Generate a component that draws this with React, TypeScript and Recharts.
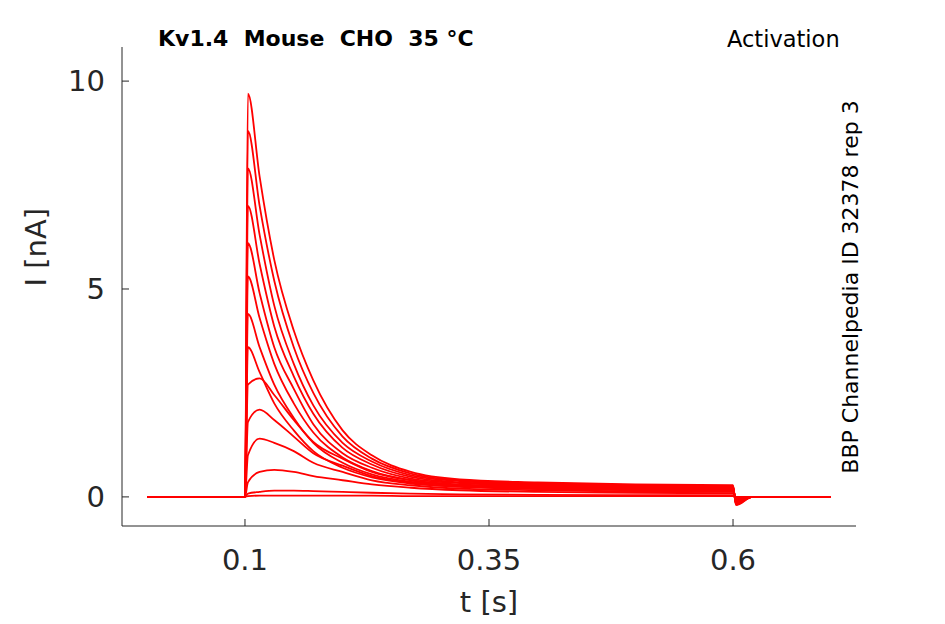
import { LineChart, Line, XAxis, YAxis } from 'recharts'

const times = [0, 0.099, 0.1, 0.103, 0.115, 0.13, 0.15, 0.17, 0.2, 0.23, 0.27, 0.32, 0.4, 0.5, 0.598, 0.6, 0.603, 0.62, 0.7]

// one row per trace, values in nA at each time above
const traces = [
  [0, 0, 0, 9.7, 7.7, 5.7, 4.0, 2.8, 1.6, 1.0, 0.6, 0.42, 0.35, 0.3, 0.28, 0.28, -0.2, 0, 0],
  [0, 0, 0, 8.8, 7.0, 5.2, 3.6, 2.5, 1.45, 0.92, 0.56, 0.4, 0.33, 0.28, 0.26, 0.26, -0.18, 0, 0],
  [0, 0, 0, 7.9, 6.3, 4.6, 3.2, 2.2, 1.3, 0.85, 0.52, 0.38, 0.31, 0.27, 0.25, 0.25, -0.16, 0, 0],
  [0, 0, 0, 7.0, 5.6, 4.1, 2.9, 2.0, 1.18, 0.78, 0.48, 0.35, 0.29, 0.25, 0.24, 0.24, -0.15, 0, 0],
  [0, 0, 0, 6.1, 4.9, 3.6, 2.6, 1.75, 1.05, 0.7, 0.44, 0.33, 0.27, 0.24, 0.23, 0.23, -0.14, 0, 0],
  [0, 0, 0, 5.3, 4.3, 3.2, 2.25, 1.55, 0.95, 0.62, 0.4, 0.3, 0.25, 0.22, 0.21, 0.21, -0.12, 0, 0],
  [0, 0, 0, 4.4, 3.6, 2.7, 1.9, 1.3, 0.82, 0.54, 0.36, 0.28, 0.23, 0.2, 0.2, 0.2, -0.1, 0, 0],
  [0, 0, 0, 3.6, 3.0, 2.25, 1.6, 1.1, 0.7, 0.47, 0.32, 0.25, 0.2, 0.18, 0.18, 0.18, -0.08, 0, 0],
  [0, 0, 0, 2.7, 2.85, 2.45, 1.85, 1.32, 0.92, 0.6, 0.4, 0.28, 0.22, 0.18, 0.16, 0.16, -0.06, 0, 0],
  [0, 0, 0, 1.8, 2.1, 1.85, 1.45, 1.05, 0.75, 0.5, 0.34, 0.24, 0.19, 0.16, 0.14, 0.14, -0.05, 0, 0],
  [0, 0, 0, 1.0, 1.4, 1.3, 1.1, 0.82, 0.6, 0.4, 0.28, 0.2, 0.16, 0.13, 0.12, 0.12, -0.04, 0, 0],
  [0, 0, 0, 0.35, 0.6, 0.65, 0.6, 0.5, 0.4, 0.3, 0.22, 0.16, 0.12, 0.1, 0.09, 0.09, -0.03, 0, 0],
  [0, 0, 0, 0.08, 0.12, 0.15, 0.15, 0.14, 0.12, 0.1, 0.08, 0.06, 0.05, 0.04, 0.04, 0.04, -0.02, 0, 0],
  [0, 0, 0, 0.02, 0.03, 0.03, 0.03, 0.03, 0.03, 0.03, 0.02, 0.02, 0.02, 0.02, 0.02, 0.02, 0, 0, 0],
]

const xTicks = [0.1, 0.35, 0.6]
const yTicks = [0, 5, 10]

const data = times.map((t, i) => {
  const row: any = { t }
  traces.forEach((tr, k) => { row[`s${k}`] = tr[i] })
  return row
})

const font = 'DejaVu Sans, sans-serif'
const axisColor = '#262626'

export default function App() {
  return (
    <div style={{ position: 'absolute', left: 0, top: 0, width: 945, height: 624, background: '#fff', fontFamily: font }}>
      <LineChart width={945} height={624} data={data} margin={{ top: 47, right: 89, bottom: 38, left: 22 }}>
        <XAxis
          dataKey="t"
          type="number"
          domain={[-0.026, 0.726]}
          ticks={xTicks}
          tickFormatter={(v) => String(v)}
          height={60}
          stroke={axisColor}
          tickSize={-7}
          tickMargin={30}
          tick={{ fontSize: 29, fill: axisColor, fontFamily: font }}
          label={{ value: 't [s]', position: 'insideBottom', offset: -26, fontSize: 29, fill: axisColor, fontFamily: font }}
        />
        <YAxis
          type="number"
          domain={[-0.7, 10.82]}
          ticks={yTicks}
          width={100}
          stroke={axisColor}
          tickSize={-7}
          tickMargin={24}
          tick={{ fontSize: 29, fill: axisColor, fontFamily: font }}
          label={{ value: 'I [nA]', angle: -90, position: 'insideLeft', offset: 0, dx: 14, fontSize: 29, fill: axisColor, fontFamily: font }}
        />
        {traces.map((_, k) => (
          <Line key={k} dataKey={`s${k}`} stroke="#ff0000" strokeWidth={1.8} dot={false} isAnimationActive={false} type="monotone" />
        ))}
      </LineChart>
      <div style={{ position: 'absolute', left: 158, top: 26, fontSize: 22, fontWeight: 'bold', color: '#000', whiteSpace: 'pre' }}>
        {'Kv1.4  Mouse  CHO  35 °C'}
      </div>
      <div style={{ position: 'absolute', left: 727, top: 26, fontSize: 22.5, color: '#000' }}>Activation</div>
      <div style={{ position: 'absolute', left: 850, top: 287, fontSize: 22, color: '#000', whiteSpace: 'nowrap', transform: 'translate(-50%, -50%) rotate(-90deg)' }}>
        BBP Channelpedia ID 32378 rep 3
      </div>
    </div>
  )
}
